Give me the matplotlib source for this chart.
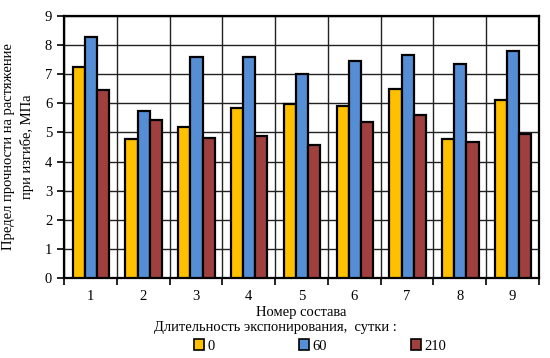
import numpy as np
import matplotlib
matplotlib.use("Agg")
from matplotlib import pyplot as plt
from matplotlib.patches import Patch

plt.rcParams['font.family'] = ['Liberation Serif', 'DejaVu Serif']

sostav = ["1", "2", "3", "4", "5", "6", "7", "8", "9"]
days = ["0", "60", "210"]
v0 = [7.25, 4.76, 5.20, 5.85, 5.97, 5.91, 6.50, 4.78, 6.12]
v60 = [8.28, 5.75, 7.60, 7.60, 7.01, 7.45, 7.66, 7.36, 7.80]
v210 = [6.46, 5.42, 4.80, 4.87, 4.57, 5.36, 5.60, 4.67, 4.95]
colors = ["#FFC000", "#558ED5", "#A0403E"]

fig = plt.figure(figsize=(5.5, 3.58), dpi=100)
ax = fig.add_axes([64/550, 1 - 278/358, 475/550, 262/358])

x = np.arange(len(sostav))
w = 0.23
for i, vals in enumerate([v0, v60, v210]):
    ax.bar(x + (i - 1) * w + 0.01, vals, w, color=colors[i], edgecolor="black",
           linewidth=1.6, zorder=3)

ax.set_xlim(-0.5, 8.5)
ax.set_ylim(0, 9)
ax.set_yticks(range(0, 10))
ax.set_xticks(x)
ax.set_xticklabels(sostav, fontsize=10.5)
ax.set_xticks(np.arange(-0.5, 9, 1), minor=True)
ax.tick_params(axis="x", which="major", length=0, pad=9)
ax.tick_params(axis="x", which="minor", length=5, width=1.2, direction="out")
ax.tick_params(axis="y", length=5, width=1.2, labelsize=10.5)
ax.grid(True, axis="y", color="#222222", linewidth=1.0, zorder=0)
ax.grid(True, axis="x", which="minor", color="#222222", linewidth=1.0, zorder=0)
for s in ax.spines.values():
    s.set_linewidth(1.6)

ax.set_xlabel("Номер состава", fontsize=10.5, labelpad=2)
ax.set_ylabel("Предел прочности на растяжение\nпри изгибе, МПа", fontsize=10.5,
              labelpad=8, linespacing=1.4)

fig.text(0.5, 1 - 327/358, "Длительность экспонирования,  сутки :", ha="center",
         va="center", fontsize=10.5)
handles = [Patch(facecolor=c, edgecolor="black", linewidth=1.2) for c in colors]
fig.legend(handles, days, loc="center", bbox_to_anchor=(0.582, 1 - 346/358),
           ncol=3, frameon=False, fontsize=10.5, handlelength=0.7, handleheight=0.7,
           handletextpad=0.2, columnspacing=5.8)

fig.savefig("out.png", dpi=100)
